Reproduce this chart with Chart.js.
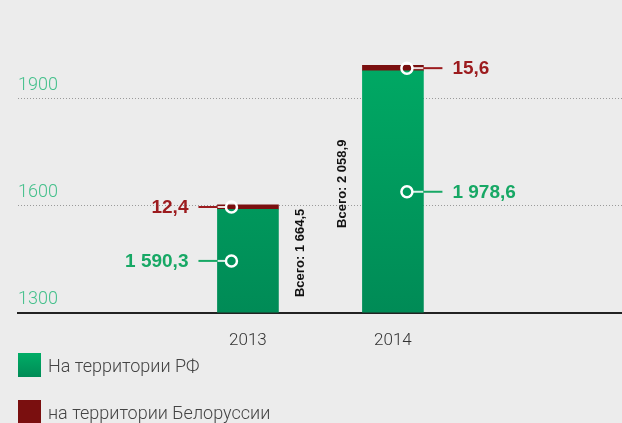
<!DOCTYPE html>
<html><head><meta charset="utf-8">
<script src="https://cdn.jsdelivr.net/npm/chart.js@4"></script>
<style>html,body{margin:0;padding:0;background:#ececec;}#wrap{width:622px;height:423px;position:relative}</style>
</head><body><div id="wrap"><canvas id="c"></canvas></div>
<script>
const years = [2013, 2014];
const rfValues = [1590.3, 1978.6];
const byValues = [12.4, 15.6];
const totals = [1664.5, 2058.9];
const yTicks = [1300, 1600, 1900];
const seriesLabels = ['На территории РФ', 'на территории Белоруссии'];
const totalPrefix = 'Всего: ';

const GREEN_TEXT = '#17a865', RED_TEXT = '#9c1b1e', RED_BAR = '#7a0f0f';

function fmt(v){ const s = v.toFixed(1).split('.'); return s[0].replace(/\B(?=(\d{3})+(?!\d))/g,' ') + ',' + s[1]; }
function greenGrad(ctx){
  const ch = ctx.chart, a = ch.chartArea;
  if(!a) return '#00a15f';
  const g = ch.ctx.createLinearGradient(0, a.top, 0, a.bottom);
  g.addColorStop(0, '#00ad66'); g.addColorStop(1, '#008b56');
  return g;
}

const annot = {
  id: 'annot',
  afterDatasetsDraw(chart){
    const c = chart.ctx, area = chart.chartArea;
    const side = [-1, 1];
    const textColors = [GREEN_TEXT, RED_TEXT];
    c.save();
    chart.data.datasets.forEach((ds, di) => {
      const meta = chart.getDatasetMeta(di);
      meta.data.forEach((bar, j) => {
        const top = bar.y, bot = Math.min(bar.base, area.bottom);
        const cy = (top + bot) / 2;
        const s = side[j];
        const half = bar.width / 2;
        const cx = bar.x + (s < 0 ? -16.5 : 14);
        const edge = bar.x + s * half;
        const lineEnd = edge + s * 19;
        c.lineWidth = 2;
        c.strokeStyle = 'rgba(255,255,255,0.85)';
        c.beginPath(); c.moveTo(cx + s * 6, cy); c.lineTo(edge, cy); c.stroke();
        c.strokeStyle = textColors[di];
        c.beginPath(); c.moveTo(edge, cy); c.lineTo(lineEnd, cy); c.stroke();
        c.strokeStyle = '#ffffff'; c.lineWidth = 2.5;
        c.beginPath(); c.arc(cx, cy, 5.5, 0, Math.PI * 2); c.stroke();
        c.fillStyle = textColors[di];
        c.font = 'bold 19px "Liberation Sans", Arial, sans-serif';
        c.textAlign = s < 0 ? 'right' : 'left';
        c.textBaseline = 'middle';
        c.fillText(fmt(ds.data[j].y), lineEnd + s * 10, cy + 1);
      });
    });
    const meta0 = chart.getDatasetMeta(0);
    meta0.data.forEach((bar, j) => {
      const cy = (bar.y + Math.min(bar.base, area.bottom)) / 2 - 8;
      const x = bar.x + (j === 0 ? 52 : -51);
      c.save();
      c.translate(x, cy);
      c.rotate(-Math.PI / 2);
      c.fillStyle = '#111';
      c.font = 'bold 13px "Liberation Sans", Arial, sans-serif';
      c.textAlign = 'center'; c.textBaseline = 'middle';
      c.fillText(totalPrefix + fmt(totals[j]), 0, 0);
      c.restore();
    });
    c.restore();
  },
  afterDraw(chart){
    const c = chart.ctx;
    c.save();
    chart.data.datasets.forEach((ds, i) => {
      const y0 = 353 + i * 47;
      if (i === 0) {
        const g = c.createLinearGradient(0, y0, 0, y0 + 24);
        g.addColorStop(0, '#00ad66'); g.addColorStop(1, '#008b56');
        c.fillStyle = g;
      } else c.fillStyle = RED_BAR;
      c.fillRect(18, y0, 23, 24);
      c.fillStyle = '#444';
      c.font = '300 18px Roboto, "Liberation Sans", sans-serif';
      c.textAlign = 'left'; c.textBaseline = 'middle';
      c.fillText(ds.label, 48, y0 + 14);
    });
    c.restore();
  }
};

new Chart(document.getElementById('c'), {
  type: 'bar',
  data: {
    datasets: [
      { label: seriesLabels[0], data: years.map((x, i) => ({x, y: rfValues[i]})), backgroundColor: greenGrad, barThickness: 61 },
      { label: seriesLabels[1], data: years.map((x, i) => ({x, y: byValues[i]})), backgroundColor: RED_BAR, barThickness: 61 }
    ]
  },
  options: {
    responsive: true, maintainAspectRatio: false, animation: false,
    layout: { padding: { left: 18, right: 0, top: 27.7, bottom: 54 } },
    plugins: { legend: { display: false }, tooltip: { enabled: false } },
    scales: {
      x: {
        type: 'linear', stacked: true, min: 2011.414, max: 2015.58, offset: false,
        afterBuildTicks: s => { s.ticks = years.map(v => ({value: v})); },
        grid: { display: false, drawTicks: false },
        border: { display: true, color: '#222', width: 2 },
        ticks: { padding: 18, color: '#333', autoSkip: false, maxRotation: 0,
          font: { family: 'Roboto', size: 17, weight: 300 }, callback: v => String(v) }
      },
      y: {
        stacked: true, min: 1300, max: 2100,
        afterBuildTicks: s => { s.ticks = yTicks.map(v => ({value: v})); },
        afterFit: s => { s.width = 0; },
        border: { display: false, dash: [1, 2] },
        grid: { drawTicks: false, lineWidth: 1,
          color: ctx => (ctx.tick && ctx.tick.value === yTicks[0]) ? 'rgba(0,0,0,0)' : '#9a9a9a' },
        ticks: { mirror: true, padding: 0, labelOffset: -13, color: '#45c08c',
          font: { family: 'Roboto', size: 18, weight: 300 }, callback: v => String(v) }
      }
    }
  },
  plugins: [annot]
});
</script></body></html>
